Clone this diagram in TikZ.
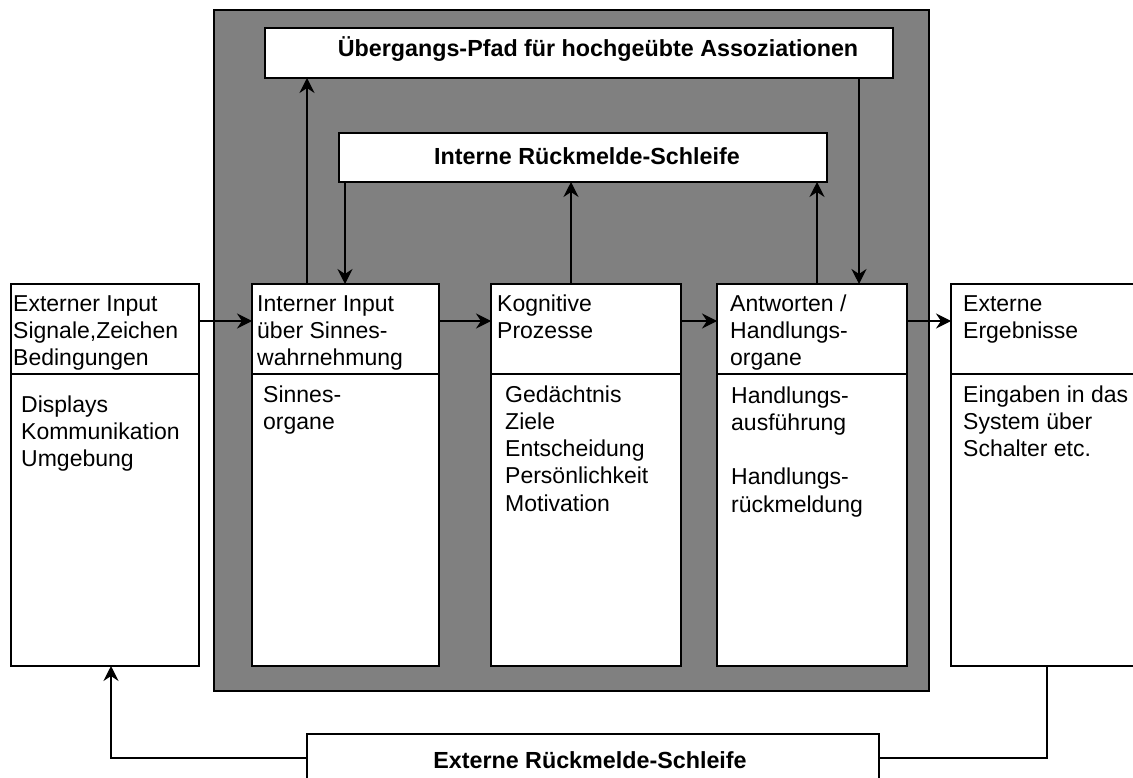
\documentclass[tikz,border=0pt]{standalone}
\usepackage{fontspec}
\setmainfont{Liberation Sans}
\usetikzlibrary{arrows.meta}
\definecolor{panelgray}{HTML}{808080}
\tikzset{
  box/.style={draw=black, line width=1.6pt, fill=white, anchor=north west,
    inner sep=0pt, outer sep=0pt},
  txt/.style={anchor=base west, inner sep=0pt, font=\fontsize{23}{27.3}\selectfont},
  ttl/.style={anchor=base, inner sep=0pt, font=\fontsize{23.3}{27.3}\selectfont\bfseries},
  arr/.style={line width=1.3pt, -{Stealth[length=15pt,width=15pt,inset=5pt]}},
  ln/.style={line width=1.3pt},
}
\newcommand\lines[1]{\begin{tabular}[t]{@{}l@{}}#1\end{tabular}}
\begin{document}
\begin{tikzpicture}[x=1pt,y=-1pt]
\useasboundingbox (0,0) rectangle (1133,778);
\clip (0,0) rectangle (1133,778);
\fill[white] (0,0) rectangle (1133,778);

% grey panel: the internal processing stages
\node[box, fill=panelgray, minimum width=715, minimum height=681] (panel) at (214,10) {};

% bars across the top
\node[box, minimum width=628, minimum height=50] (path) at (265,28) {};
\node[ttl] (pathtxt) at (598,57) {Übergangs-Pfad für hochgeübte Assoziationen};
\node[box, minimum width=488, minimum height=49] (intloop) at (339,133) {};
\node[ttl] (intlooptxt) at (587,165) {Interne Rückmelde-Schleife};

% five stage columns: header part and body part
\node[box, minimum width=188, minimum height=90]  (e1h) at (11,284) {};
\node[box, minimum width=188, minimum height=292] (e1b) at (11,374) {};
\node[box, minimum width=187, minimum height=90]  (e2h) at (252,284) {};
\node[box, minimum width=187, minimum height=292] (e2b) at (252,374) {};
\node[box, minimum width=190, minimum height=90]  (e3h) at (491,284) {};
\node[box, minimum width=190, minimum height=292] (e3b) at (491,374) {};
\node[box, minimum width=190, minimum height=90]  (e4h) at (717,284) {};
\node[box, minimum width=190, minimum height=292] (e4b) at (717,374) {};
\node[box, minimum width=200, minimum height=90]  (e5h) at (951,284) {};
\node[box, minimum width=200, minimum height=292] (e5b) at (951,374) {};

% external feedback bar
\node[box, minimum width=572, minimum height=48] (extloop) at (307,734) {};
\node[ttl] (extlooptxt) at (590,768) {Externe Rückmelde-Schleife};

% column texts
\node[txt] (t1h) at (13,311)  {\lines{Externer Input\\Signale,Zeichen\\Bedingungen}};
\node[txt] (t1b) at (21,412)  {\lines{Displays\\Kommunikation\\Umgebung}};
\node[txt] (t2h) at (257,311) {\lines{Interner Input\\über Sinnes-\\wahrnehmung}};
\node[txt] (t2b) at (263,402) {\lines{Sinnes-\\organe}};
\node[txt] (t3h) at (497,311) {\lines{Kognitive\\Prozesse}};
\node[txt] (t3b) at (505,402) {\lines{Gedächtnis\\Ziele\\Entscheidung\\Persönlichkeit\\Motivation}};
\node[txt] (t4h) at (730,311) {\lines{Antworten /\\Handlungs-\\organe}};
\node[txt] (t4b) at (731,403) {\lines{Handlungs-\\ausführung\\\\Handlungs-\\rückmeldung}};
\node[txt] (t5h) at (963,311) {\lines{Externe\\Ergebnisse}};
\node[txt] (t5b) at (963,402) {\lines{Eingaben in das\\System über\\Schalter etc.}};

% forward flow between the columns
\draw[arr] ([yshift=-37pt]e1h.north east) -- ([yshift=-37pt]e2h.north west);
\draw[arr] ([yshift=-37pt]e2h.north east) -- ([yshift=-37pt]e3h.north west);
\draw[arr] ([yshift=-37pt]e3h.north east) -- ([yshift=-37pt]e4h.north west);
\draw[arr] ([yshift=-37pt]e4h.north east) -- ([yshift=-37pt]e5h.north west);

% internal loops
\draw[arr] ([xshift=55pt]e2h.north west) -- ([xshift=55pt]e2h.north west |- path.south);
\draw[arr] ([xshift=6pt]intloop.south west) -- ([xshift=6pt]intloop.south west |- e2h.north);
\draw[arr] ([xshift=80pt]e3h.north west) -- ([xshift=80pt]e3h.north west |- intloop.south);
\draw[arr] ([xshift=100pt]e4h.north west) -- ([xshift=100pt]e4h.north west |- intloop.south);
\draw[arr] ([xshift=-34pt]path.south east) -- ([xshift=-34pt]path.south east |- e4h.north);

% external loop
\draw[ln] ([xshift=96pt]e5b.south west) |- (extloop.east);
\draw[arr] (extloop.west) -| ([xshift=100pt]e1b.south west);
\end{tikzpicture}
\end{document}
